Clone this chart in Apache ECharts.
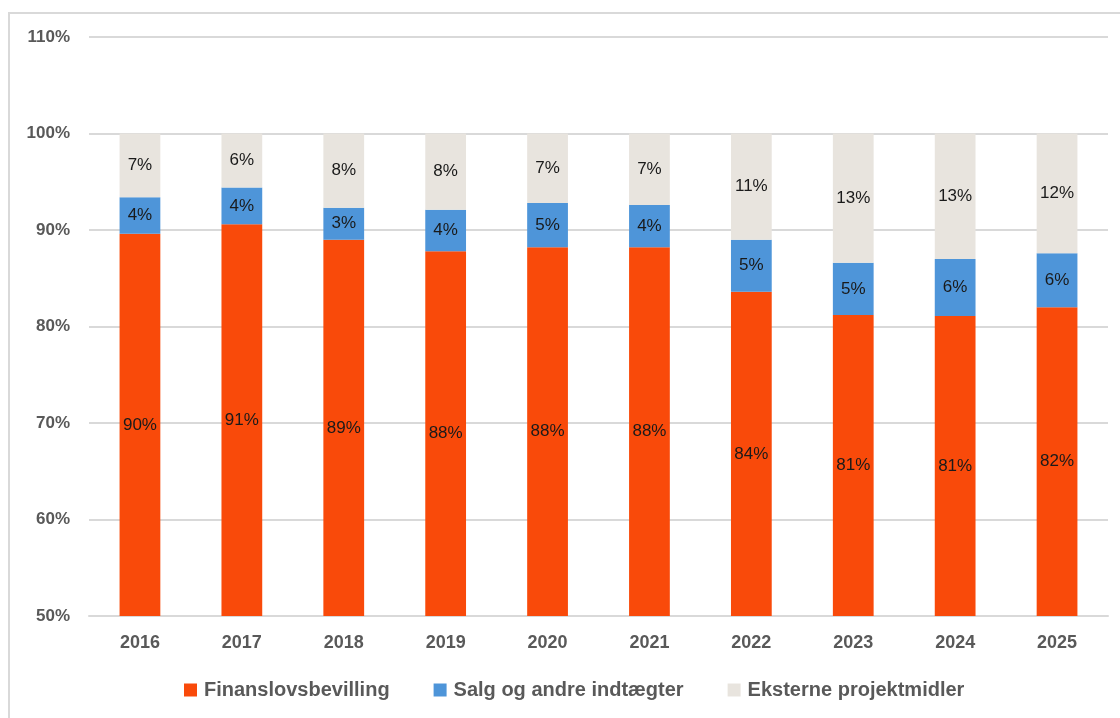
<!DOCTYPE html>
<html>
<head>
<meta charset="utf-8">
<script src="https://cdn.jsdelivr.net/npm/echarts@6/dist/echarts.min.js"></script>
<style>
html,body{margin:0;padding:0;background:#fff;}
#frame{position:absolute;left:8px;top:12px;width:1120px;height:718px;border-left:2px solid #d9d9d9;border-top:2px solid #d9d9d9;box-sizing:border-box;}
#chart{position:absolute;left:0;top:0;width:1120px;height:718px;}
</style>
</head>
<body>
<div id="frame"></div>
<div id="chart"></div>
<script>
const years = ['2016','2017','2018','2019','2020','2021','2022','2023','2024','2025'];
const finanslov = [89.6, 90.6, 89.0, 87.8, 88.2, 88.2, 83.6, 81.2, 81.1, 82.0];
const salg = [3.8, 3.8, 3.3, 4.3, 4.6, 4.4, 5.4, 5.4, 5.9, 5.6];
const eksterne = [6.6, 5.6, 7.7, 7.9, 7.2, 7.4, 11.0, 13.4, 13.0, 12.4];
const seriesNames = ['Finanslovsbevilling', 'Salg og andre indtægter', 'Eksterne projektmidler'];
const colors = ['#F94A0A', '#4E95D9', '#E8E4DE'];

const chart = echarts.init(document.getElementById('chart'));
const labelCfg = {
  show: true, position: 'inside', color: '#1a1a1a', fontSize: 17,
  fontFamily: 'Liberation Sans, Arial, sans-serif',
  formatter: p => Math.round(p.value) + '%'
};
const data = [finanslov, salg, eksterne];
chart.setOption({
  animation: false,
  grid: {left: 89, right: 12, top: 37, bottom: 102, containLabel: false},
  legend: {
    bottom: 13, left: 179, itemWidth: 13, itemHeight: 13, itemGap: 44,
    icon: 'rect',
    textStyle: {color: '#595959', fontSize: 20, fontWeight: 'bold', fontFamily: 'Liberation Sans, Arial, sans-serif', padding: [0, 0, 0, 2]},
    data: seriesNames
  },
  xAxis: {
    type: 'category', data: years,
    axisLine: {show: true, lineStyle: {color: '#d9d9d9', width: 2}},
    axisTick: {show: false},
    axisLabel: {color: '#595959', fontSize: 18, fontWeight: 'bold', margin: 18, fontFamily: 'Liberation Sans, Arial, sans-serif'}
  },
  yAxis: {
    type: 'value', min: 50, max: 110, interval: 10,
    axisLine: {show: false}, axisTick: {show: false},
    splitLine: {lineStyle: {color: '#d9d9d9', width: 2}},
    axisLabel: {color: '#595959', fontSize: 17, fontWeight: 'bold', margin: 19, formatter: '{value}%', fontFamily: 'Liberation Sans, Arial, sans-serif'}
  },
  series: seriesNames.map((n, i) => ({
    name: n, type: 'bar', stack: 'total', barWidth: '40%',
    itemStyle: {color: colors[i]},
    label: labelCfg,
    data: data[i]
  }))
});
</script>
</body>
</html>
